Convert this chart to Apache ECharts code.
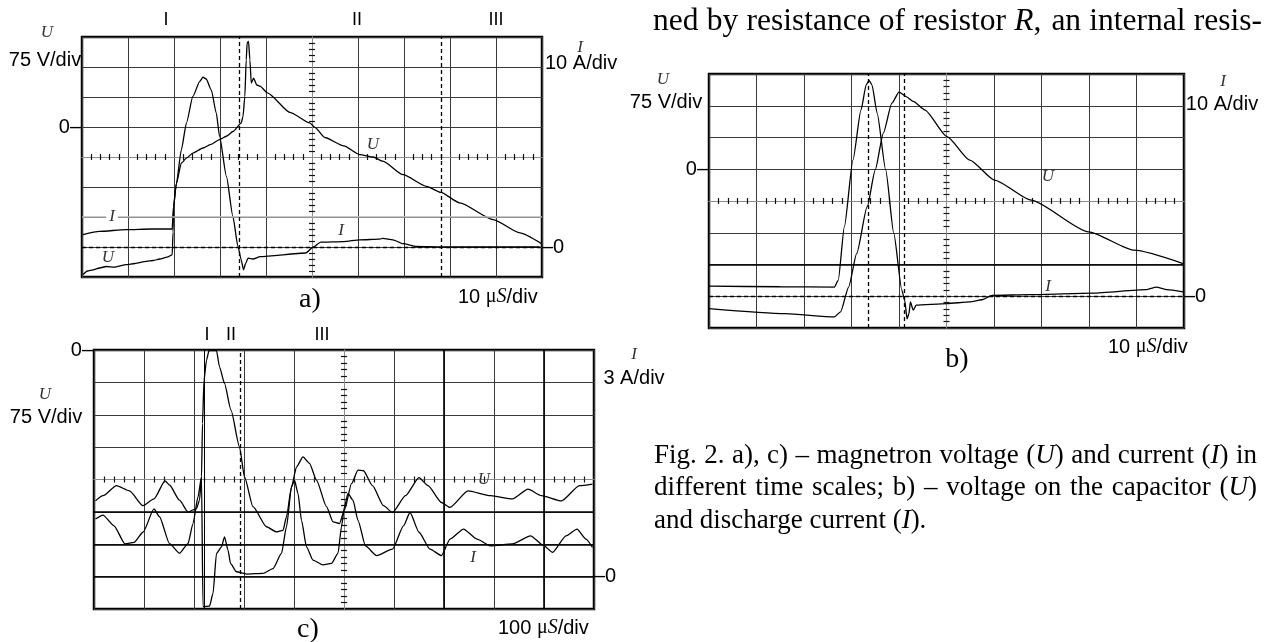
<!DOCTYPE html>
<html>
<head>
<meta charset="utf-8">
<script src="https://cdn.jsdelivr.net/npm/echarts@6.0.0/dist/echarts.min.js"></script>
<style>
  html, body { margin: 0; padding: 0; background: #fff; }
  #main { width: 1266px; height: 642px; }
</style>
</head>
<body>
<div id="main"></div>
<script>
// oscillograms, values in screen divisions: x 0..10, y 0..8 (from bottom-left)
const aU = [[0.02,0.08],[0.12,0.2],[0.24,0.24],[0.38,0.3],[0.53,0.35],[0.7,0.33],[0.96,0.41],[1.15,0.45],[1.4,0.52],[1.55,0.55],[1.69,0.6],[1.85,0.66],[1.96,0.74],[1.98,1.5],[1.99,2.35],[2.05,3.1],[2.16,3.8],[2.27,3.96],[2.41,4.13],[2.63,4.3],[2.8,4.42],[2.99,4.58],[3.15,4.7],[3.28,4.85],[3.46,5.13],[3.5,5.35],[3.54,6.02],[3.57,7.24],[3.59,7.8],[3.62,7.85],[3.65,7.24],[3.68,6.46],[3.73,6.63],[3.8,6.4],[3.87,6.36],[4.03,6.14],[4.53,5.48],[4.95,5.14],[5.07,4.98],[5.28,4.65],[5.69,4.37],[6.04,4.08],[6.33,4.0],[6.54,3.86],[6.98,3.41],[7.49,3.02],[7.8,2.82],[8.21,2.47],[8.94,1.91],[9.52,1.47],[9.99,1.11]];
const aI = [[0.02,1.41],[0.38,1.52],[0.96,1.58],[1.5,1.6],[1.96,1.6],[1.99,2.35],[2.05,3.1],[2.16,4.24],[2.27,5.13],[2.41,6.02],[2.56,6.52],[2.63,6.66],[2.7,6.6],[2.81,6.24],[2.92,5.46],[2.99,4.69],[3.14,3.35],[3.28,2.02],[3.39,1.02],[3.46,0.58],[3.51,0.24],[3.56,0.46],[3.61,0.63],[3.72,0.6],[3.87,0.68],[4.86,0.8],[5.03,1.0],[5.19,1.16],[5.69,1.18],[6.04,1.24],[6.47,1.26],[6.54,1.29],[6.76,1.24],[6.98,1.11],[7.27,1.02],[7.85,1.0],[9.95,1.0]];

const bU = [[0,0.61],[1.6,0.45],[2.64,0.35],[2.77,0.51],[2.94,1.29],[3.11,2.35],[3.33,3.82],[3.5,4.98],[3.67,6.14],[3.85,7.08],[4.0,7.43],[4.15,7.29],[4.3,7.14],[4.54,6.87],[5.01,6.03],[5.49,5.29],[6.01,4.66],[6.78,4.03],[7.99,3.03],[8.95,2.45],[9.98,2.03]];
const bI = [[0,1.32],[1.5,1.3],[2.64,1.29],[2.72,1.5],[2.85,3.19],[3.03,5.29],[3.2,6.87],[3.31,7.66],[3.37,7.8],[3.43,7.66],[3.54,6.77],[3.72,4.98],[3.89,2.98],[4.06,1.19],[4.12,0.87],[4.17,0.29],[4.21,0.45],[4.24,0.82],[4.3,0.56],[4.36,0.72],[5.01,0.77],[5.49,0.82],[5.75,0.89],[5.96,1.03],[6.78,1.05],[8.08,1.1],[9.2,1.21],[9.42,1.29],[9.64,1.21],[9.98,1.14]];

const cU = [[0.03,3.34],[0.18,3.5],[0.45,3.81],[0.71,3.65],[0.98,3.19],[1.2,3.4],[1.42,3.96],[1.51,3.83],[1.71,3.36],[1.88,3.0],[2.05,3.1],[2.11,3.36],[2.15,4.08],[2.17,5.73],[2.2,7.07],[2.25,7.69],[2.3,7.98],[2.45,7.98],[2.51,7.48],[2.61,6.97],[2.74,6.14],[2.91,5.01],[3.01,4.08],[3.18,3.16],[3.45,2.54],[3.65,2.38],[3.78,2.43],[3.85,2.85],[3.95,3.77],[4.05,4.39],[4.18,4.7],[4.31,4.5],[4.45,3.98],[4.65,3.16],[4.78,2.69],[4.91,2.64],[5.01,3.06],[5.15,3.87],[5.28,4.29],[5.39,4.27],[5.57,3.81],[5.79,3.19],[5.97,2.98],[6.23,3.5],[6.5,4.06],[6.68,3.81],[6.95,3.29],[7.12,3.14],[7.48,3.65],[7.93,3.5],[8.37,3.4],[8.68,3.7],[8.95,3.5],[9.35,3.34],[9.71,3.81],[9.97,3.86]];
const cI = [[0.03,2.78],[0.18,2.9],[0.4,2.57],[0.62,2.01],[0.8,2.06],[0.98,2.37],[1.2,3.09],[1.31,2.85],[1.51,2.02],[1.71,1.72],[1.88,2.02],[1.98,2.64],[2.08,3.46],[2.15,4.08],[2.18,0.07],[2.31,0.09],[2.38,0.48],[2.45,1.72],[2.55,1.92],[2.61,2.23],[2.68,1.82],[2.73,1.41],[2.85,1.15],[3.05,1.08],[3.38,1.1],[3.58,1.25],[3.75,1.72],[3.85,2.54],[3.95,3.77],[4.01,3.98],[4.08,3.57],[4.15,2.74],[4.25,1.92],[4.38,1.51],[4.58,1.36],[4.75,1.41],[4.88,1.72],[4.95,2.54],[5.01,3.16],[5.08,3.57],[5.18,3.36],[5.28,2.74],[5.43,1.95],[5.65,1.65],[5.97,1.85],[6.19,2.57],[6.32,2.98],[6.5,2.37],[6.72,1.85],[6.95,1.65],[7.12,2.16],[7.39,2.47],[7.66,2.16],[7.93,1.95],[8.37,2.01],[8.73,2.26],[9.0,1.95],[9.17,1.75],[9.44,2.26],[9.66,2.47],[9.84,2.16],[9.97,1.9]];

// cursor positions (divisions) and zero levels
const cursorsA = [3.41, 7.8];
const cursorsB = [3.36, 4.1];
const cursorsC = [2.92];
const markerC = [2.2];
const zeroU = [5, 5, 8];
const zeroI = [1, 1, 1];
// darker graticule lines
const boldB = { y: [2], x: [] };
const boldC = { y: [2, 3], x: [7, 9] };

const SANS = '"Liberation Sans", Arial, sans-serif';
const SERIF = '"Liberation Serif", "Times New Roman", serif';

const grids = [
  { left: 82, top: 37, width: 460, height: 240 },
  { left: 709, top: 74, width: 475, height: 254 },
  { left: 94, top: 350, width: 500, height: 259 }
];

const xAxis = [], yAxis = [];
grids.forEach((g, i) => {
  const bx = { gridIndex: i, type: 'value', min: 0, max: 10, interval: 1 };
  const by = { gridIndex: i, type: 'value', min: 0, max: 8, interval: 1 };
  xAxis.push(Object.assign({}, bx, {
    axisLine: { show: false }, axisTick: { show: false }, axisLabel: { show: false },
    splitLine: { show: true, lineStyle: { color: '#3a3a3a', width: 1 } }
  }));
  yAxis.push(Object.assign({}, by, {
    axisLine: { show: false }, axisTick: { show: false },
    axisLabel: {
      show: true, margin: 1, color: '#000', fontFamily: SANS, fontSize: 20,
      formatter: v => (v === zeroU[i] ? '0–' : '')
    },
    splitLine: { show: true, lineStyle: { color: '#3a3a3a', width: 1 } }
  }));
  // centre cross with small ticks on both sides
  [false, true].forEach(inside => {
    const common = {
      axisLine: { show: true, onZero: false, lineStyle: { color: '#8c8c8c', width: 1 } },
      axisTick: { show: false, inside: inside },
      minorTick: { show: true, splitNumber: 5, length: 3, lineStyle: { color: '#111', width: 1.2 } },
      axisLabel: { show: false }, splitLine: { show: false }
    };
    xAxis.push(Object.assign({}, bx, common, { position: 'bottom', offset: -g.height / 2 }));
    yAxis.push(Object.assign({}, by, common, { position: 'left', offset: -g.width / 2 }));
  });
});

const dash = { type: [4, 3], color: '#000', width: 1.3 };
const bold = { type: 'solid', color: '#000', width: 1.6 };

function boldLines(b) {
  return b.y.map(y => ({ yAxis: y, lineStyle: bold, label: { show: false } }))
    .concat(b.x.map(x => ({ xAxis: x, lineStyle: bold, label: { show: false } })));
}

function marks(xs, zeroY, zeroSolid, extra) {
  const data = xs.map(x => ({ xAxis: x, lineStyle: dash, label: { show: false } }));
  (extra || []).forEach(x => data.push({ xAxis: x, lineStyle: { type: 'solid', color: '#000', width: 1 }, label: { show: false } }));
  data.push({
    yAxis: zeroY,
    lineStyle: zeroSolid ? bold : dash,
    label: { show: true, position: 'end', formatter: '–0', distance: 0, color: '#000', fontFamily: SANS, fontSize: 20 }
  });
  return { symbol: ['none', 'none'], silent: true, animation: false, data };
}

function trace(i, data, markLine) {
  const s = {
    type: 'line', xAxisIndex: 3 * i, yAxisIndex: 3 * i, data,
    showSymbol: false, symbol: 'none', smooth: 0.2, smoothMonotone: 'x',
    lineStyle: { color: '#000', width: 1.3 }, silent: true, animation: false
  };
  if (markLine) s.markLine = markLine;
  return s;
}

const series = [
  trace(0, aU, { symbol: ['none', 'none'], silent: true, animation: false,
    data: [{ yAxis: 2, lineStyle: { type: 'solid', color: '#b4b4b4', width: 1.5 }, label: { show: false } }] }),
  trace(0, aI, marks(cursorsA, zeroI[0], false)),
  trace(1, bU, { symbol: ['none', 'none'], silent: true, animation: false, data: boldLines(boldB) }),
  trace(1, bI, marks(cursorsB, zeroI[1], false)),
  trace(2, cU, { symbol: ['none', 'none'], silent: true, animation: false, data: boldLines(boldC) }),
  trace(2, cI, marks(cursorsC, zeroI[2], true, markerC))
];

// ---- texts ----
const graphics = [];
function txt(x, y, text, o) {
  o = o || {};
  graphics.push({
    type: 'text', x, y, z: 100, silent: true,
    style: {
      text, fill: o.fill || '#000',
      fontFamily: o.serif ? SERIF : SANS, fontSize: o.size || 20,
      fontStyle: o.italic ? 'italic' : 'normal',
      align: o.align || 'center', verticalAlign: 'middle',
      backgroundColor: o.bg, padding: o.bg ? [0, 3] : 0,
      rich: o.rich
    }
  });
}
const mu = {
  m: { fontFamily: SERIF, fontSize: 20, fill: '#000' },
  s: { fontFamily: SERIF, fontSize: 20, fontStyle: 'italic', fill: '#000' }
};
const ital = { serif: true, italic: true, size: 17, fill: '#333' };

// panel a
txt(166, 20, 'I', { size: 18 }); txt(357, 20, 'II', { size: 18 }); txt(496, 20, 'III', { size: 18 });
txt(47, 33, 'U', ital); txt(45, 60, '75 V/div');
txt(580, 48, 'I', ital); txt(545, 63, '10 A/div', { align: 'left' });
txt(112, 217, 'I', Object.assign({ bg: '#fff' }, ital)); txt(108, 258, 'U', ital);
txt(373, 145, 'U', ital); txt(341, 231, 'I', ital);
txt(310, 300, 'a)', { serif: true, size: 28 });
txt(458, 297, '10 {m|μ}{s|S}/div', { align: 'left', rich: mu });

// panel b
txt(663, 80, 'U', ital); txt(666, 102, '75 V/div');
txt(1223, 82, 'I', ital); txt(1222, 104, '10 A/div');
txt(1048, 177, 'U', ital); txt(1048, 287, 'I', ital);
txt(957, 360, 'b)', { serif: true, size: 28 });
txt(1108, 347, '10 {m|μ}{s|S}/div', { align: 'left', rich: mu });

// panel c
txt(207, 335, 'I', { size: 18 }); txt(231, 335, 'II', { size: 18 }); txt(322, 335, 'III', { size: 18 });
txt(45, 395, 'U', ital); txt(46, 417, '75 V/div');
txt(634, 355, 'I', ital); txt(634, 378, '3 A/div');
txt(484, 480, 'U', ital); txt(473, 558, 'I', ital);
txt(308, 630, 'c)', { serif: true, size: 28 });
txt(498, 628, '100 {m|μ}{s|S}/div', { align: 'left', rich: mu });

// justified body text
const ctx = document.createElement('canvas').getContext('2d');
function line(words, x0, x1, y, size) {
  ctx.font = size + 'px "Liberation Serif"';
  const plain = words.map(w => w.replace(/\{i\|([^}]*)\}/g, '$1'));
  const widths = plain.map(w => ctx.measureText(w).width);
  const total = widths.reduce((a, b) => a + b, 0);
  const gap = x1 ? (x1 - x0 - total) / (words.length - 1) : ctx.measureText(' ').width;
  let x = x0;
  words.forEach((w, k) => {
    txt(x, y, w, {
      serif: true, size, align: 'left',
      rich: { i: { fontFamily: SERIF, fontSize: size, fontStyle: 'italic', fill: '#000' } }
    });
    x += widths[k] + gap;
  });
}
line('ned by resistance of resistor {i|R}, an internal resis-'.split(' '), 653, 1262, 22, 31.5);
line('Fig. 2. a), c) – magnetron voltage ({i|U}) and current ({i|I}) in'.split(' '), 654, 1257, 456, 27);
line('different time scales; b) – voltage on the capacitor ({i|U})'.split(' '), 654, 1257, 488, 27);
line('and discharge current ({i|I}).'.split(' '), 654, null, 521, 27);

const chart = echarts.init(document.getElementById('main'), null, { renderer: 'canvas' });
chart.setOption({
  backgroundColor: '#fff',
  animation: false,
  grid: grids.map(g => Object.assign({ show: true, borderColor: '#000', borderWidth: 2.5, backgroundColor: '#fff', containLabel: false }, g)),
  xAxis, yAxis, series,
  graphic: { elements: graphics }
});
</script>
</body>
</html>
